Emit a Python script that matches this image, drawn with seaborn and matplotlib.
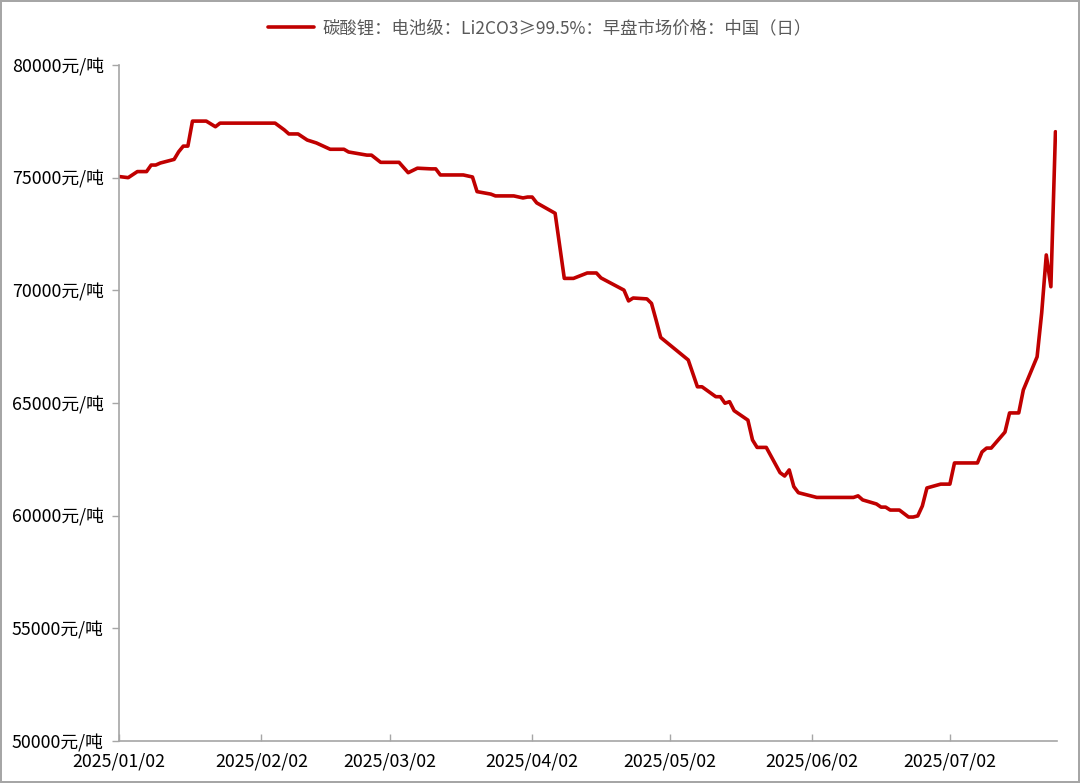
import matplotlib
matplotlib.use("Agg")
import matplotlib.pyplot as plt
import seaborn as sns
import pandas as pd

# ---- data ----
dates = [
    "2025-01-02", "2025-01-04", "2025-01-06", "2025-01-08", "2025-01-09", "2025-01-10",
    "2025-01-11", "2025-01-14", "2025-01-15", "2025-01-16", "2025-01-17", "2025-01-18",
    "2025-01-21", "2025-01-23", "2025-01-24", "2025-02-05", "2025-02-07", "2025-02-08",
    "2025-02-10", "2025-02-12", "2025-02-14", "2025-02-17", "2025-02-20", "2025-02-21",
    "2025-02-25", "2025-02-26", "2025-02-28", "2025-03-04", "2025-03-06", "2025-03-08",
    "2025-03-11", "2025-03-12", "2025-03-13", "2025-03-18", "2025-03-20", "2025-03-21",
    "2025-03-24", "2025-03-25", "2025-03-29", "2025-03-31", "2025-04-01", "2025-04-02",
    "2025-04-03", "2025-04-07", "2025-04-09", "2025-04-11", "2025-04-14", "2025-04-16",
    "2025-04-17", "2025-04-22", "2025-04-23", "2025-04-24", "2025-04-27", "2025-04-28",
    "2025-04-29", "2025-04-30", "2025-05-06", "2025-05-08", "2025-05-09", "2025-05-12",
    "2025-05-13", "2025-05-14", "2025-05-15", "2025-05-16", "2025-05-19", "2025-05-20",
    "2025-05-21", "2025-05-23", "2025-05-26", "2025-05-27", "2025-05-28", "2025-05-29",
    "2025-05-30", "2025-06-03", "2025-06-11", "2025-06-12", "2025-06-13", "2025-06-16",
    "2025-06-17", "2025-06-18", "2025-06-19", "2025-06-21", "2025-06-23", "2025-06-24",
    "2025-06-25", "2025-06-26", "2025-06-27", "2025-06-30", "2025-07-02", "2025-07-03",
    "2025-07-08", "2025-07-09", "2025-07-10", "2025-07-11", "2025-07-14", "2025-07-15",
    "2025-07-17", "2025-07-18", "2025-07-21", "2025-07-22", "2025-07-23", "2025-07-24",
    "2025-07-25",
]
prices = [
    75050, 75000, 75270, 75270, 75560, 75560,
    75650, 75810, 76150, 76400, 76400, 77510,
    77510, 77260, 77420, 77420, 77120, 76940,
    76940, 76670, 76540, 76260, 76260, 76140,
    76000, 76000, 75680, 75680, 75220, 75420,
    75390, 75390, 75120, 75120, 75030, 74380,
    74270, 74190, 74190, 74100, 74140, 74140,
    73880, 73420, 70530, 70530, 70770, 70770,
    70550, 70010, 69530, 69660, 69620, 69420,
    68680, 67910, 66910, 65720, 65720, 65280,
    65280, 64990, 65060, 64660, 64240, 63360,
    63030, 63030, 61910, 61760, 62030, 61290,
    61020, 60810, 60810, 60880, 60700, 60520,
    60380, 60380, 60250, 60250, 59940, 59940,
    59990, 60430, 61230, 61400, 61400, 62340,
    62340, 62830, 63000, 63000, 63710, 64560,
    64560, 65580, 67050, 69000, 71570, 70160,
    77040,
]
series_name = "碳酸锂：电池级：Li2CO3≥99.5%：早盘市场价格：中国（日）"
y_ticks = [50000, 55000, 60000, 65000, 70000, 75000, 80000]
y_tick_labels = [f"{v}元/吨" for v in y_ticks]
x_tick_dates = ["2025-01-02", "2025-02-02", "2025-03-02", "2025-04-02",
                "2025-05-02", "2025-06-02", "2025-07-02"]
x_tick_labels = ["2025/01/02", "2025/02/02", "2025/03/02", "2025/04/02",
                 "2025/05/02", "2025/06/02", "2025/07/02"]

df = pd.DataFrame({"date": pd.to_datetime(dates), "price": prices})

sns.set_style("white")
plt.rcParams["font.family"] = ["Noto Sans CJK SC", "DejaVu Sans"]

fig = plt.figure(figsize=(10.8, 7.83), dpi=100, linewidth=1.5, edgecolor="#a6a6a6")
ax = fig.add_axes([0.1102, 0.0536, 0.8685, 0.8634])

sns.lineplot(data=df, x="date", y="price", ax=ax, color="#C00000",
             linewidth=2.6, label=series_name, legend=False)

ax.set_ylim(50000, 80000)
ax.set_xlim(pd.Timestamp("2025-01-02"), pd.Timestamp("2025-07-25 08:00"))
ax.set_yticks(y_ticks)
ax.set_yticklabels(y_tick_labels, fontsize=12.8, color="black")
ax.set_xticks(pd.to_datetime(x_tick_dates))
ax.set_xticklabels(x_tick_labels, fontsize=12.8, color="black")
ax.set_xlabel("")
ax.set_ylabel("")

for s in ["top", "right"]:
    ax.spines[s].set_visible(False)
for s in ["left", "bottom"]:
    ax.spines[s].set_color("#a6a6a6")
    ax.spines[s].set_linewidth(1.2)

ax.tick_params(axis="y", direction="out", length=5, width=1, color="#a6a6a6", left=True, pad=6)
ax.tick_params(axis="x", direction="in", length=5, width=1, color="#a6a6a6", bottom=True, pad=8)
ax.grid(False)

handles, labels = ax.get_legend_handles_labels()
fig.legend(handles, labels, loc="center", bbox_to_anchor=(0.5, 0.964),
           frameon=False, fontsize=12.5, labelcolor="#595959",
           handlelength=2.6, handletextpad=0.5)

fig.savefig("out.png", dpi=100, edgecolor=fig.get_edgecolor())
